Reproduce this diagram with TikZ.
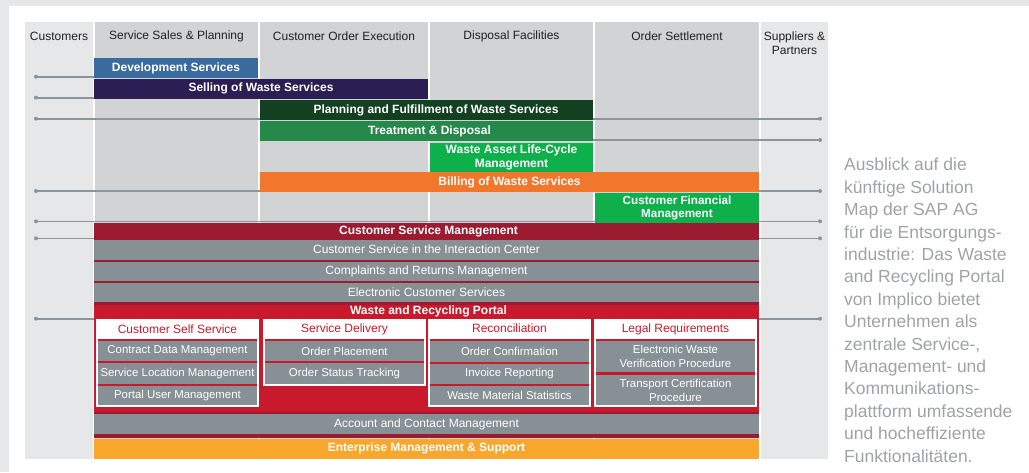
\documentclass[tikz,border=0pt]{standalone}
\usepackage{fontspec}
\setmainfont{Liberation Sans}
\definecolor{pagegray}{HTML}{E6E7E8}
\definecolor{coldark}{HTML}{D1D3D4}
\definecolor{devblue}{HTML}{3A6B9F}
\definecolor{navy}{HTML}{2A1E54}
\definecolor{dkgreen}{HTML}{124020}
\definecolor{mdgreen}{HTML}{25894A}
\definecolor{btgreen}{HTML}{0DB04B}
\definecolor{orng}{HTML}{F1772D}
\definecolor{dkred}{HTML}{9B1B30}
\definecolor{rd}{HTML}{C81A2C}
\definecolor{gry}{HTML}{869095}
\definecolor{yorng}{HTML}{F9A72C}
\definecolor{lgray}{HTML}{8D959A}
\definecolor{capgray}{HTML}{A0A3A6}
\definecolor{hdtext}{HTML}{231F20}
\newcommand{\wbox}[8]{\node[box, fill=#6, minimum width={(#4-#2)*1pt}, minimum height={(#5-#3)*1pt}, #7] (#1) at (#2,#3) {#8};}
\tikzset{
  box/.style={draw=none, inner sep=0pt, outer sep=0pt, anchor=north west, align=center},
  coltitle/.style={font=\fontsize{12}{14}\selectfont, text=hdtext, align=center, inner sep=0pt},
  barlbl/.style={font=\bfseries\fontsize{12}{13.5}\selectfont, text=white},
  rowlbl/.style={font=\fontsize{12}{14}\selectfont, text=white},
  itemlbl/.style={font=\fontsize{11.4}{14}\selectfont, text=white},
  subttl/.style={font=\fontsize{12}{14}\selectfont, text=rd, inner sep=0pt},
  conn/.style={draw=lgray, line width=1.6pt},
  dot/.style={circle, fill=lgray, inner sep=0pt, minimum size=4pt},
}
\begin{document}
\begin{tikzpicture}[x=1pt, y=-1pt]
\useasboundingbox (0,0) rectangle (1029,472);
\fill[white] (0,0) rectangle (1029,472);
\fill[pagegray] (0,0) rectangle (1029,6);
\fill[pagegray] (0,0) rectangle (9,472);
% columns
\wbox{cust}{25}{22}{93}{459}{pagegray}{}{}
\wbox{ssp}{95}{22}{258}{459}{coldark}{}{}
\wbox{coe}{260}{22}{428}{459}{coldark}{}{}
\wbox{disp}{430}{22}{593}{459}{coldark}{}{}
\wbox{ost}{595}{22}{759}{459}{coldark}{}{}
\wbox{sup}{761}{22}{828}{459}{pagegray}{}{}
% headers
\node[coltitle] (h1) at (59,36) {Customers};
\node[coltitle] (h2) at (176.5,36) {Service Sales \& Planning};
\node[coltitle] (h3) at (344,36) {Customer Order Execution};
\node[coltitle] (h4) at (511.5,36) {Disposal Facilities};
\node[coltitle] (h5) at (677,36) {Order Settlement};
\node[coltitle] (h6) at (794.5,43) {Suppliers \&\\Partners};
% upper bars
\wbox{dev}{94}{58}{258}{78}{devblue}{barlbl}{Development Services}
\wbox{sell}{94}{79}{428}{98.7}{navy}{barlbl}{Selling of Waste Services}
% connector end dots
\node[dot] (La) at (36,76.7) {};
\node[dot] (Lb) at (36,97.7) {};
\node[dot] (Lc) at (36,118.7) {};
\node[dot] (Rc) at (820,118.7) {};
\node[dot] (Rd) at (820,140) {};
\node[dot] (Le) at (36,191) {};
\node[dot] (Re) at (820,191) {};
\node[dot] (Lf) at (36,221.3) {};
\node[dot] (Rf) at (820,221.3) {};
\node[dot] (Lg) at (36,238.3) {};
\node[dot] (Rg) at (820,238.3) {};
\node[dot] (Lh) at (36,318.7) {};
\node[dot] (Rh) at (820,318.7) {};
% treatment bar (needed as end of a connector)
\wbox{treat}{260}{121}{593}{141}{mdgreen}{}{}
% connectors
\draw[conn] (La.center) -- (La.center -| dev.west);
\draw[conn] (Lb.center) -- (Lb.center -| sell.west);
\draw[conn] (Lc.center) -- (Rc.center);
\draw[conn] (Rd.center) -- (Rd.center -| treat.east);
\draw[conn] (Le.center) -- (Re.center);
\draw[conn] (Lf.center) -- (Rf.center);
\draw[conn] (Lg.center) -- (Rg.center);
\draw[conn] (Lh.center) -- (Rh.center);
% bars over lines
\wbox{plan}{260}{100}{593}{119.7}{dkgreen}{}{}
\node[barlbl] (plant) at (436,110) {Planning and Fulfillment of Waste Services};
\node[box, fill=mdgreen, minimum width=333pt, minimum height=20pt] (treat2) at (treat.north west) {};
\node[barlbl] (treatt) at (429.5,131) {Treatment \& Disposal};
\wbox{wal}{430}{143}{593}{171.5}{btgreen}{barlbl}{Waste Asset Life-Cycle\\Management}
\wbox{bill}{260}{172}{759}{192}{orng}{barlbl}{Billing of Waste Services}
\wbox{cfm}{595}{193}{759}{222.7}{btgreen}{barlbl, font=\bfseries\fontsize{11.7}{13.5}\selectfont}{Customer Financial\\Management}
% customer service block
\wbox{blk}{94}{223}{759}{437.5}{dkred}{}{}
\node[barlbl] (csm) at (428.5,231) {Customer Service Management};
\wbox{cic}{94}{239.5}{759}{259.5}{gry}{rowlbl}{Customer Service in the Interaction Center}
\wbox{crm}{94}{261.5}{759}{281}{gry}{rowlbl}{Complaints and Returns Management}
\wbox{ecs}{94}{282.5}{759}{302}{gry}{rowlbl}{Electronic Customer Services}
\wbox{wrp}{94}{304.5}{759}{412}{rd}{}{}
\node[barlbl] (wrpt) at (428.5,311) {Waste and Recycling Portal};
% sub boxes
\wbox{css}{96}{319}{259}{407}{white}{}{}
\node[subttl] (csst) at (177.5,329) {Customer Self Service};
\wbox{cssr}{98}{339}{257}{405}{rd}{}{}
\wbox{cdm}{98}{341}{257}{361}{gry}{itemlbl}{Contract Data Management}
\wbox{slm}{98}{363}{257}{383.5}{gry}{itemlbl}{Service Location Management}
\wbox{pum}{98}{386}{257}{405}{gry}{itemlbl}{Portal User Management}
\wbox{sdl}{263}{319}{426}{386}{white}{}{}
\node[subttl] (sdlt) at (344.5,329) {Service Delivery};
\wbox{sdlr}{265}{339}{424}{383.5}{rd}{}{}
\wbox{opl}{265}{341}{424}{361}{gry}{itemlbl}{Order Placement}
\wbox{ost2}{265}{363}{424}{383.5}{gry}{itemlbl}{Order Status Tracking}
\wbox{rec}{428}{319}{591}{407}{white}{}{}
\node[subttl] (rect) at (509.5,328.5) {Reconciliation};
\wbox{recr}{430}{339}{589}{405}{rd}{}{}
\wbox{ocf}{430}{341}{589}{362}{gry}{itemlbl}{Order Confirmation}
\wbox{irp}{430}{363.5}{589}{383.5}{gry}{itemlbl}{Invoice Reporting}
\wbox{wms}{430}{386}{589}{405}{gry}{itemlbl}{Waste Material Statistics}
\wbox{lgl}{594}{319}{757}{407}{white}{}{}
\node[subttl] (lglt) at (675.5,329) {Legal Requirements};
\wbox{lglr}{596}{339}{755}{405}{rd}{}{}
\wbox{ewv}{596}{341}{755}{372}{gry}{itemlbl}{Electronic Waste\\Verification Procedure}
\wbox{tcp}{596}{375}{755}{405}{gry}{itemlbl}{Transport Certification\\Procedure}
% bottom rows
\wbox{acm}{94}{414}{759}{434}{gry}{rowlbl}{Account and Contact Management}
\wbox{ems}{94}{438.5}{759}{459}{yorng}{barlbl}{Enterprise Management \& Support}
% caption
\node[anchor=north west, inner sep=0pt, align=left, text=capgray, font=\fontsize{17.5}{22.4}\selectfont] (cap) at (844,158) {Ausblick auf die\\künftige Solution\\Map der SAP AG\\für die Entsorgungs-\\industrie: Das Waste\\and Recycling Portal\\von Implico bietet\\Unternehmen als\\zentrale Service-,\\Management- und\\Kommunikations-\\plattform umfassende\\und hocheffiziente\\Funktionalitäten.};
\end{tikzpicture}
\end{document}
